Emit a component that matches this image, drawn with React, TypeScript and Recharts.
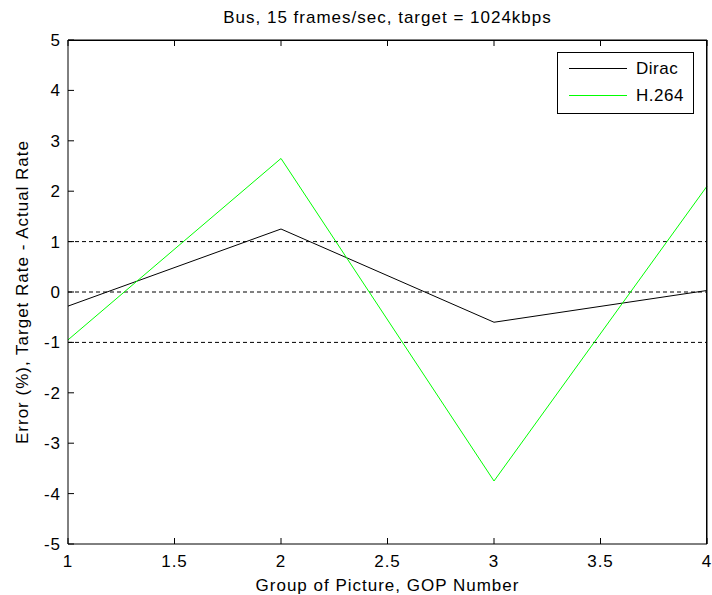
import {
  LineChart, Line, XAxis, YAxis, ReferenceLine,
} from 'recharts';

const gop = [1, 2, 3, 4];
const dirac = [-0.28, 1.25, -0.6, 0.03];
const h264 = [-0.95, 2.65, -3.75, 2.1];

const xTicks = [1, 1.5, 2, 2.5, 3, 3.5, 4];
const yTicks = [-5, -4, -3, -2, -1, 0, 1, 2, 3, 4, 5];
const tolerance = [-1, 0, 1];

const series = [
  { key: 'dirac', name: 'Dirac', color: '#000000' },
  { key: 'h264', name: 'H.264', color: '#00ff00' },
];

const data = gop.map((g, i) => ({ gop: g, dirac: dirac[i], h264: h264[i] }));

const font = '"Liberation Sans", Arial, sans-serif';
const txt = { fill: '#000', fontSize: 17, letterSpacing: 1 };

// MATLAB-style legend box in the upper right corner
function LegendBox() {
  return (
    <div style={{
      position: 'absolute', left: 557, top: 52, width: 135, height: 58,
      border: '1px solid #000', background: '#fff', fontSize: 17, letterSpacing: 0.5,
      paddingTop: 2,
    }}>
      {series.map(s => (
        <div key={s.key} style={{ display: 'flex', alignItems: 'center', height: 27 }}>
          <div style={{ width: 58, height: 0, borderTop: `1px solid ${s.color}`, marginLeft: 11, marginRight: 9 }} />
          <span>{s.name}</span>
        </div>
      ))}
    </div>
  );
}

export default function App() {
  return (
    <div style={{ position: 'absolute', left: 0, top: 0, width: 712, height: 595, background: '#fff', fontFamily: font }}>
      <div style={{ position: 'absolute', top: 8, left: 68, width: 639, textAlign: 'center', fontSize: 17, letterSpacing: 1 }}>
        Bus, 15 frames/sec, target = 1024kbps
      </div>
      <LineChart width={712} height={595} data={data}
        margin={{ top: 40, right: 5, left: 0, bottom: 0 }}
        style={{ fontFamily: font }}>
        <XAxis dataKey="gop" type="number" domain={[1, 4]} ticks={xTicks}
          height={51} axisLine={{ stroke: '#000' }} tickLine={{ stroke: '#000' }}
          tickSize={-6} tickMargin={17} tick={txt}
          label={{ value: 'Group of Picture, GOP Number', position: 'insideBottom', offset: 4, ...txt }} />
        <XAxis xAxisId="top" orientation="top" dataKey="gop" type="number" domain={[1, 4]} ticks={xTicks}
          mirror axisLine={{ stroke: '#000' }} tickLine={{ stroke: '#000' }}
          tickSize={6} tick={{ fill: 'none' }} />
        <YAxis type="number" domain={[-5, 5]} ticks={yTicks} width={68}
          axisLine={{ stroke: '#000' }} tickLine={{ stroke: '#000' }}
          tickSize={-6} tickMargin={13} tick={txt}
          label={{ value: 'Error (%), Target Rate - Actual Rate', angle: -90, position: 'center', dx: -12, ...txt }} />
        <YAxis yAxisId="right" orientation="right" type="number" domain={[-5, 5]} ticks={yTicks}
          mirror axisLine={{ stroke: '#000' }} tickLine={{ stroke: '#000' }}
          tickSize={6} tick={{ fill: 'none' }} />
        {tolerance.map(v => (
          <ReferenceLine key={v} y={v} stroke="#000" strokeDasharray="4 3" />
        ))}
        {series.map(s => (
          <Line key={s.key} type="linear" dataKey={s.key} name={s.name} stroke={s.color}
            strokeWidth={1} dot={false} isAnimationActive={false} />
        ))}
      </LineChart>
      {/* top and right edges of the axes box */}
      <div style={{
        position: 'absolute', left: 68, top: 40, width: 639, height: 504, boxSizing: 'border-box',
        borderTop: '1px solid #000', borderRight: '1px solid #000', pointerEvents: 'none',
      }} />
      <LegendBox />
    </div>
  );
}
